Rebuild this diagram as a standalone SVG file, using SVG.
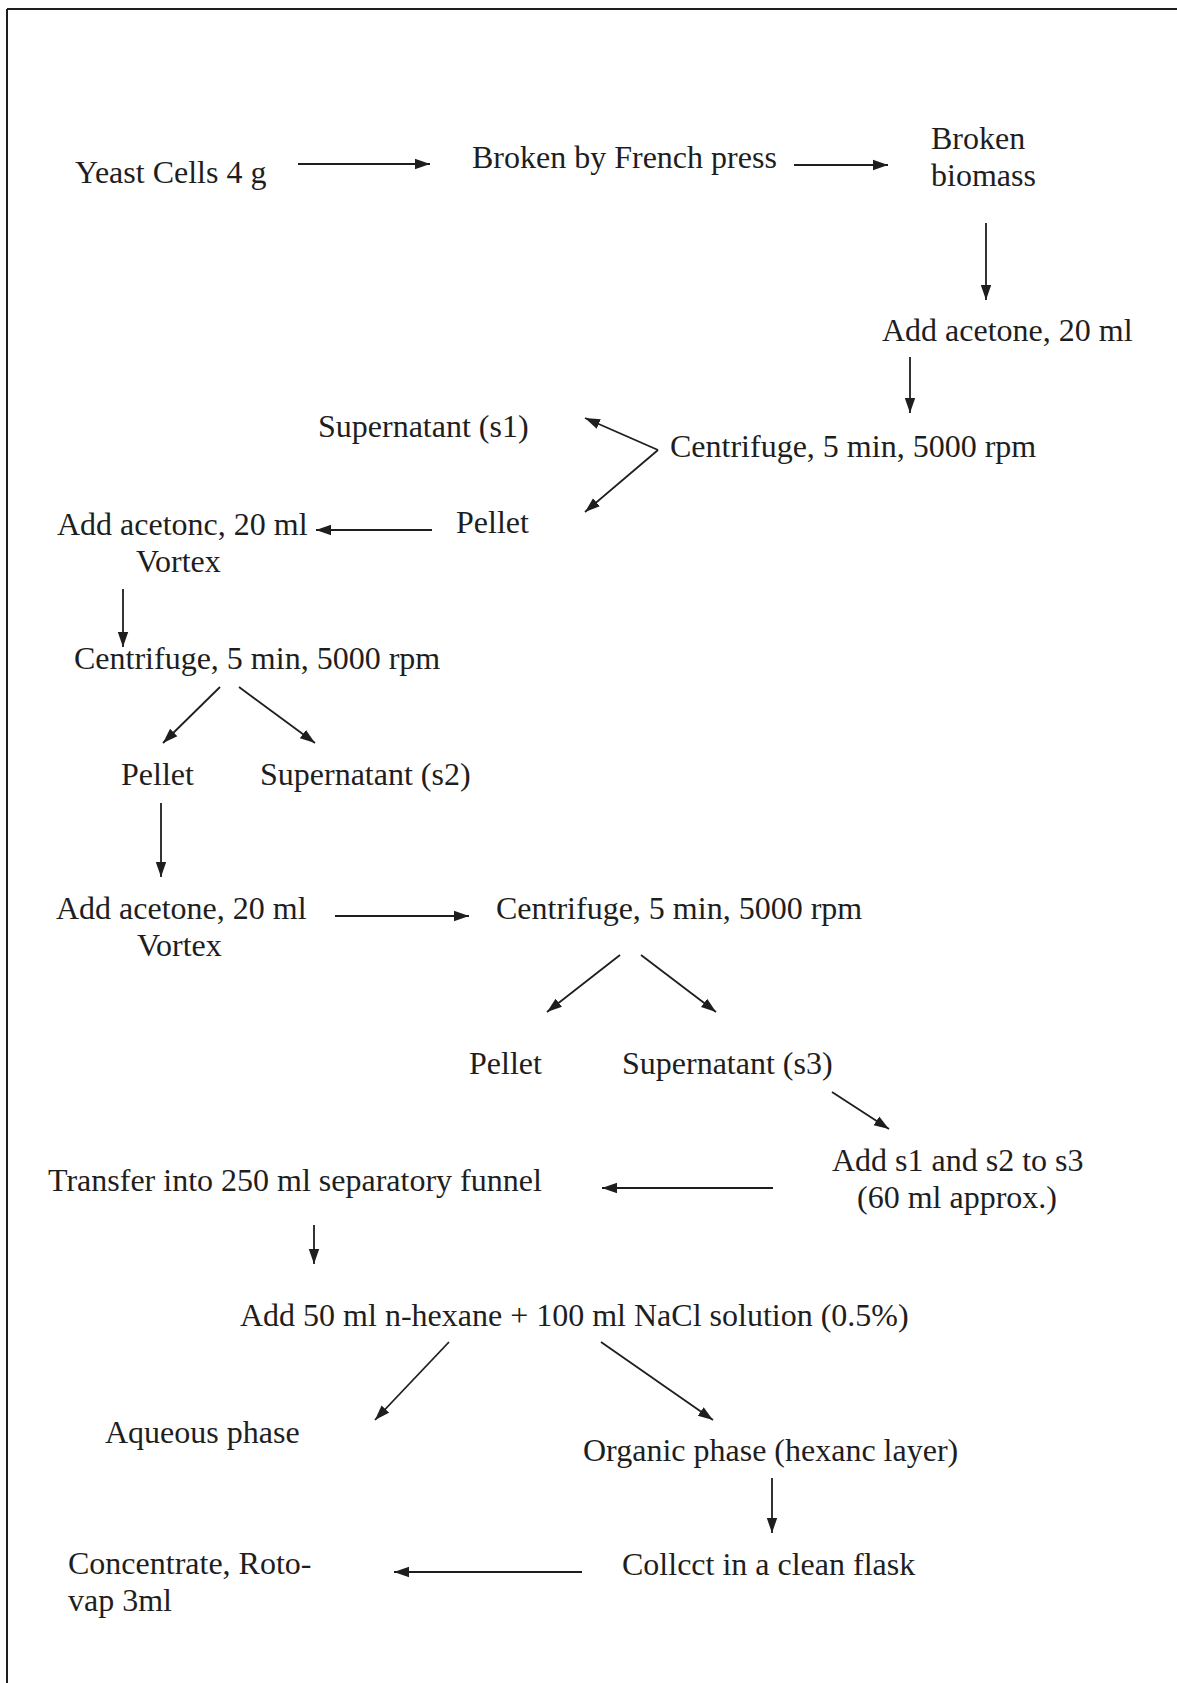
<svg xmlns="http://www.w3.org/2000/svg" width="1177" height="1683" viewBox="0 0 1177 1683">
<style>
text{font-family:"Liberation Serif","Times New Roman",serif;font-size:32px;fill:#1e1e1e}
.c{stroke:#1e1e1e;stroke-width:1.8;fill:none}
.b{stroke:#1e1e1e;stroke-width:2;fill:none}
</style>
<defs>
<marker id="ah" markerUnits="userSpaceOnUse" markerWidth="16" markerHeight="12" refX="15" refY="6" orient="auto">
<path d="M0,0.8 L15,6 L0,11.2 z" fill="#1e1e1e"/>
</marker>
</defs>
<rect width="1177" height="1683" fill="#ffffff"/>
<g id="border">
<line class="b" x1="7" y1="9" x2="1177" y2="9"/>
<line class="b" x1="7" y1="9" x2="7" y2="1683"/>
</g>
<g id="connectors">
<line class="c" x1="298" y1="164" x2="430" y2="164" marker-end="url(#ah)"/>
<line class="c" x1="794" y1="165" x2="888" y2="165" marker-end="url(#ah)"/>
<line class="c" x1="986" y1="223" x2="986" y2="300" marker-end="url(#ah)"/>
<line class="c" x1="910" y1="357" x2="910" y2="413" marker-end="url(#ah)"/>
<line class="c" x1="658" y1="450" x2="585" y2="418" marker-end="url(#ah)"/>
<line class="c" x1="658" y1="450" x2="585" y2="512" marker-end="url(#ah)"/>
<line class="c" x1="432" y1="530" x2="316" y2="530" marker-end="url(#ah)"/>
<line class="c" x1="123" y1="589" x2="123" y2="647" marker-end="url(#ah)"/>
<line class="c" x1="220" y1="687" x2="163" y2="743" marker-end="url(#ah)"/>
<line class="c" x1="239" y1="687" x2="315" y2="743" marker-end="url(#ah)"/>
<line class="c" x1="161" y1="803" x2="161" y2="877" marker-end="url(#ah)"/>
<line class="c" x1="335" y1="916" x2="469" y2="916" marker-end="url(#ah)"/>
<line class="c" x1="620" y1="955" x2="547" y2="1012" marker-end="url(#ah)"/>
<line class="c" x1="641" y1="955" x2="716" y2="1012" marker-end="url(#ah)"/>
<line class="c" x1="832" y1="1092" x2="889" y2="1129" marker-end="url(#ah)"/>
<line class="c" x1="773" y1="1188" x2="602" y2="1188" marker-end="url(#ah)"/>
<line class="c" x1="314" y1="1225" x2="314" y2="1264" marker-end="url(#ah)"/>
<line class="c" x1="449" y1="1342" x2="375" y2="1420" marker-end="url(#ah)"/>
<line class="c" x1="601" y1="1342" x2="713" y2="1420" marker-end="url(#ah)"/>
<line class="c" x1="772" y1="1478" x2="772" y2="1533" marker-end="url(#ah)"/>
<line class="c" x1="582" y1="1572" x2="394" y2="1572" marker-end="url(#ah)"/>
</g>
<g id="n1"><text x="75" y="183">Yeast Cells 4 g</text></g>
<g id="n2"><text x="472" y="168">Broken by French press</text></g>
<g id="n3"><text x="931" y="149">Broken</text><text x="931" y="186">biomass</text></g>
<g id="n4"><text x="882" y="341">Add acetone, 20 ml</text></g>
<g id="n5"><text x="670" y="457">Centrifuge, 5 min, 5000 rpm</text></g>
<g id="n6"><text x="318" y="437">Supernatant (s1)</text></g>
<g id="n7"><text x="456" y="533">Pellet</text></g>
<g id="n8"><text x="57" y="535">Add acetonc, 20 ml</text><text x="136" y="572">Vortex</text></g>
<g id="n9"><text x="74" y="669">Centrifuge, 5 min, 5000 rpm</text></g>
<g id="n10"><text x="121" y="785">Pellet</text></g>
<g id="n11"><text x="260" y="785">Supernatant (s2)</text></g>
<g id="n12"><text x="56" y="919">Add acetone, 20 ml</text><text x="137" y="956">Vortex</text></g>
<g id="n13"><text x="496" y="919">Centrifuge, 5 min, 5000 rpm</text></g>
<g id="n14"><text x="469" y="1074">Pellet</text></g>
<g id="n15"><text x="622" y="1074">Supernatant (s3)</text></g>
<g id="n16"><text x="832" y="1171">Add s1 and s2 to s3</text><text x="857" y="1208">(60 ml approx.)</text></g>
<g id="n17"><text x="48" y="1191">Transfer into 250 ml separatory funnel</text></g>
<g id="n18"><text x="240" y="1326">Add 50 ml n-hexane + 100 ml NaCl solution (0.5%)</text></g>
<g id="n19"><text x="105" y="1443">Aqueous phase</text></g>
<g id="n20"><text x="583" y="1461">Organic phase (hexanc layer)</text></g>
<g id="n21"><text x="622" y="1575">Collcct in a clean flask</text></g>
<g id="n22"><text x="68" y="1574">Concentrate, Roto-</text><text x="68" y="1611">vap 3ml</text></g>
</svg>
